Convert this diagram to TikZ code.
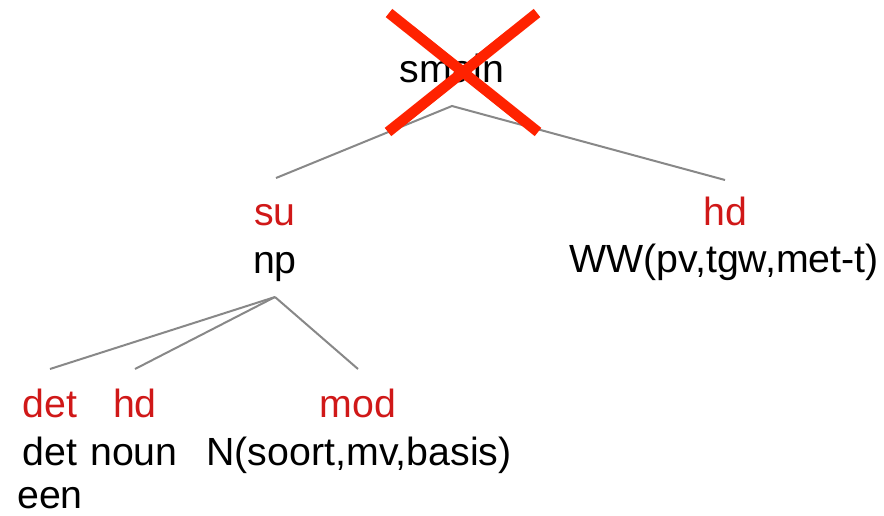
\documentclass[tikz,border=0pt]{standalone}
\usepackage{fontspec}
\setmainfont{Liberation Sans}
\definecolor{lblred}{HTML}{D01818}
\definecolor{edgegray}{HTML}{888888}
\definecolor{xred}{HTML}{FF2200}
\begin{document}
\begin{tikzpicture}[x=1pt,y=-1pt,
  txt/.style={anchor=base,inner sep=0pt,font=\fontsize{39.3}{40}\selectfont},
  lbl/.style={txt,text=lblred},
  edge/.style={draw=edgegray,line width=2pt},
  cross/.style={draw=xred,line width=10.5pt}]
\useasboundingbox (0,0) rectangle (884,515);
% nodes
\node[txt] (smain) at (452,82) {smain};
\node[lbl] (su) at (275,225) {su};
\node[txt] (np) at (275,273) {np};
\node[lbl] (hdr) at (725,225) {hd};
\node[txt] (ww) at (724,272) {WW(pv,tgw,met-t)};
\node[lbl] (detl) at (50,417) {det};
\node[lbl] (hdl) at (135,417) {hd};
\node[lbl] (mod) at (358,417) {mod};
\node[txt] (det) at (50,465) {det};
\node[txt] (een) at (50,508) {een};
\node[txt] (noun) at (134,465) {noun};
\node[txt] (nn) at (359,465) {N(soort,mv,basis)};
% connector ends
\coordinate (smainB) at (452,106);
\coordinate (suT) at (276,178);
\coordinate (hdT) at (725,180);
\coordinate (npB) at (275,297);
\coordinate (detT) at (50,369);
\coordinate (hdlT) at (135,369);
\coordinate (modT) at (358,369);
\draw[edge] (suT) -- (smainB) -- (hdT);
\draw[edge] (detT) -- (npB);
\draw[edge] (hdlT) -- (npB);
\draw[edge] (modT) -- (npB);
% cross
\coordinate (x1) at (389,13);
\coordinate (x2) at (538,132);
\coordinate (x3) at (537,13);
\coordinate (x4) at (388,132);
\draw[cross] (x1) -- (x2);
\draw[cross] (x3) -- (x4);
\end{tikzpicture}
\end{document}
